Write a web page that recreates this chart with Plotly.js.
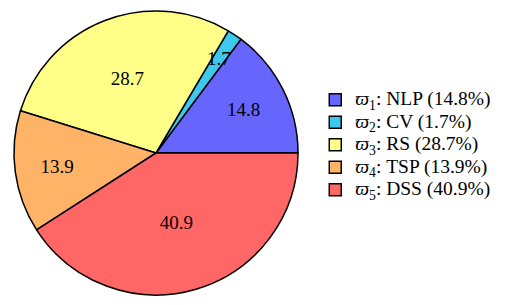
<!DOCTYPE html>
<html>
<head>
<meta charset="utf-8">
<script src="https://cdn.plot.ly/plotly-3.0.1.min.js"></script>
<style>html,body{margin:0;padding:0;background:#fff;}#chart{width:516px;height:305px;}</style>
</head>
<body>
<div id="chart"></div>
<script>
var labels = ['NLP', 'CV', 'RS', 'TSP', 'DSS'];
var values = [14.8, 1.7, 28.7, 13.9, 40.9];
var colors = ['#6666ff', '#3dc9ee', '#ffff88', '#ffb366', '#ff6666'];

var FONT = '"Liberation Serif", "Times New Roman", Times, serif';
var total = values.reduce(function (a, b) { return a + b; }, 0);

var legendNames = labels.map(function (l, i) {
  return '<span style="font-size:19.5px"><i>ϖ</i><sub>' + (i + 1) + '</sub>: ' + l + ' (' + values[i].toFixed(1) + '%)</span>';
});

// Small slice (CV) label is drawn as annotation at its mid angle, since Plotly would shrink it
var smallIdx = 1;
var textpos = values.map(function (v, i) { return i === smallIdx ? 'none' : 'inside'; });

var domX = [14 / 516, 298 / 516];
var domY = [9 / 305, 295 / 305];

var trace = {
  type: 'pie',
  labels: legendNames,
  values: values,
  sort: false,
  direction: 'counterclockwise',
  // first slice starts at 3 o'clock and proceeds counterclockwise
  rotation: 90 - values[0] / total * 360,
  marker: {colors: colors, line: {color: '#000', width: 1.5}},
  texttemplate: '%{value:.1f}',
  textposition: textpos,
  insidetextorientation: 'horizontal',
  textfont: {family: FONT, size: 19, color: '#000'},
  domain: {x: domX, y: domY},
  hoverinfo: 'none'
};

// annotation position for small slice from data
var before = 0;
for (var k = 0; k < smallIdx; k++) before += values[k];
var midAng = (before + values[smallIdx] / 2) / total * 2 * Math.PI; // ccw from 3 o'clock
var W = 516, H = 305;
var cx = (domX[0] + domX[1]) / 2, cy = (domY[0] + domY[1]) / 2;
var Rpx = Math.min((domX[1] - domX[0]) * W, (domY[1] - domY[0]) * H) / 2;
var rr = 0.8 * Rpx;
var ann = {
  xref: 'paper', yref: 'paper',
  x: cx + rr * Math.cos(midAng) / W,
  y: cy + rr * Math.sin(midAng) / H,
  xanchor: 'center', yanchor: 'middle',
  text: values[smallIdx].toFixed(1),
  showarrow: false,
  font: {family: FONT, size: 19, color: '#000'}
};

var layout = {
  width: W,
  height: H,
  margin: {l: 0, r: 0, t: 0, b: 0},
  paper_bgcolor: '#fff',
  showlegend: true,
  font: {family: FONT, color: '#000'},
  annotations: [ann],
  legend: {
    x: 0.611, xanchor: 'left', y: 0.525, yanchor: 'middle',
    font: {size: 15, family: FONT, color: '#000'},
    traceorder: 'normal'
  }
};

Plotly.newPlot('chart', [trace], layout, {staticPlot: true});
</script>
</body>
</html>
